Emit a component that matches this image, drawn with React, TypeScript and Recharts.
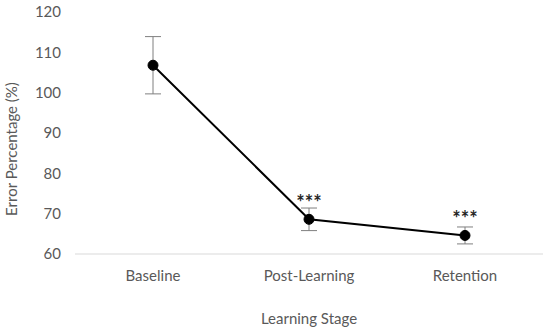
import React from 'react';
import { ComposedChart, Line, XAxis, YAxis, ErrorBar, LabelList, Label } from 'recharts';

const stages = ['Baseline', 'Post-Learning', 'Retention'];
const errorPct = [106.8, 68.6, 64.6];
const errorSd = [7.1, 2.8, 2.1];
const stars = ['', '***', '***'];
const yTicks = [60, 70, 80, 90, 100, 110, 120];

const data = stages.map((stage, i) => ({
  stage,
  value: errorPct[i],
  err: errorSd[i],
  sig: stars[i],
}));

const font = 'Lato, "Open Sans", sans-serif';
const grey = '#595959';

const App: React.FC = () => {
  return (
    <div style={{ position: 'absolute', left: 0, top: 0, width: 550, height: 334, background: '#fff' }}>
      <ComposedChart
        width={550}
        height={334}
        data={data}
        margin={{ top: 12, right: 7, bottom: 0, left: 0 }}
      >
        <XAxis
          dataKey="stage"
          scale="band"
          axisLine={{ stroke: '#d9d9d9', strokeWidth: 1 }}
          tickLine={false}
          tickMargin={10}
          height={80}
          tick={{ fill: grey, fontSize: 15, fontFamily: font }}
          label={{ value: 'Learning Stage', position: 'insideBottom', offset: 10, fill: grey, fontSize: 15, fontFamily: font }}
        />
        <YAxis
          domain={[60, 120]}
          ticks={yTicks}
          width={75}
          axisLine={false}
          tickLine={false}
          tickMargin={8}
          tick={{ fill: grey, fontSize: 15, fontFamily: font }}
        >
          <Label
            content={() => (
              <text
                x={17}
                y={149}
                transform="rotate(-90, 17, 149)"
                textAnchor="middle"
                fill={grey}
                fontSize={15}
                fontFamily={font}
              >
                Error Percentage (%)
              </text>
            )}
          />
        </YAxis>
        <Line
          dataKey="value"
          stroke="#000"
          strokeWidth={2}
          dot={{ r: 5, fill: '#000', stroke: '#000', strokeWidth: 1 }}
          isAnimationActive={false}
        >
          <ErrorBar dataKey="err" direction="y" width={8} stroke="#7f7f7f" strokeWidth={1} />
          <LabelList
            dataKey="sig"
            position="top"
            offset={9}
            fill="#262626"
            fontSize={20}
            fontWeight="bold"
            fontFamily={font}
          />
        </Line>
      </ComposedChart>
    </div>
  );
};

export default App;
